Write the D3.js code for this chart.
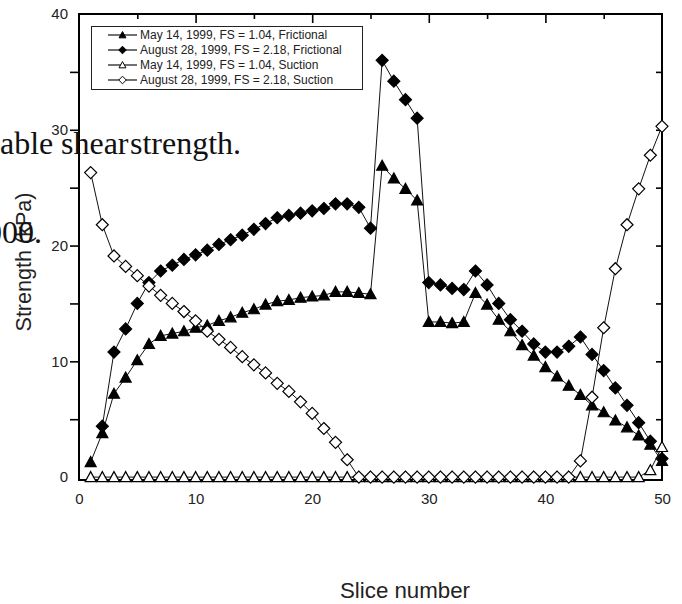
<!DOCTYPE html>
<html>
<head>
<meta charset="utf-8">
<script src="https://cdn.jsdelivr.net/npm/d3@7/dist/d3.min.js"></script>
<style>
  html, body { margin: 0; padding: 0; background: #fff; }
  svg { display: block; }
</style>
</head>
<body>
<svg id="chart" width="682" height="604"></svg>
<script>
// Slice numbers along the slip surface
const slices = d3.range(1, 51);

// Frictional strength, May 14, 1999 (FS = 1.04), kPa
const mayFrictional = [
  1.3, 3.8, 7.2, 8.6, 10.1, 11.5, 12.2, 12.4, 12.6, 12.9,
  13.1, 13.5, 13.8, 14.2, 14.5, 14.9, 15.2, 15.3, 15.5, 15.6,
  15.7, 16.0, 16.0, 15.9, 15.8, 26.9, 25.8, 24.9, 23.9, 13.4,
  13.4, 13.3, 13.4, 15.9, 14.9, 13.6, 12.6, 11.4, 10.5, 9.5,
  8.7, 7.9, 7.1, 6.2, 5.6, 4.9, 4.3, 3.6, 2.8, 1.4
];

// Frictional strength, August 28, 1999 (FS = 2.18), kPa (no value for slice 1)
const augFrictional = [
  null, 4.4, 10.8, 12.8, 15.0, 16.8, 17.8, 18.3, 18.8, 19.2,
  19.6, 20.1, 20.5, 20.9, 21.4, 21.9, 22.4, 22.6, 22.8, 23.0,
  23.2, 23.6, 23.6, 23.3, 21.5, 36.0, 34.2, 32.6, 31.0, 16.8,
  16.6, 16.3, 16.2, 17.8, 16.6, 15.0, 13.6, 12.6, 11.5, 10.8,
  10.8, 11.3, 12.1, 10.6, 9.2, 7.7, 6.2, 4.7, 3.1, 1.6
];

// Suction strength, May 14, 1999 (FS = 1.04), kPa
const maySuction = [
  0, 0, 0, 0, 0, 0, 0, 0, 0, 0,
  0, 0, 0, 0, 0, 0, 0, 0, 0, 0,
  0, 0, 0, 0, 0, 0, 0, 0, 0, 0,
  0, 0, 0, 0, 0, 0, 0, 0, 0, 0,
  0, 0, 0, 0, 0, 0, 0, 0, 0.6, 2.6
];

// Suction strength, August 28, 1999 (FS = 2.18), kPa
const augSuction = [
  26.3, 21.8, 19.1, 18.2, 17.4, 16.5, 15.7, 15.0, 14.3, 13.5,
  12.6, 11.9, 11.2, 10.4, 9.7, 9.0, 8.1, 7.4, 6.5, 5.5,
  4.2, 3.0, 1.5, 0, 0, 0, 0, 0, 0, 0,
  0, 0, 0, 0, 0, 0, 0, 0, 0, 0,
  0, 0, 1.4, 6.9, 12.9, 18.0, 21.8, 24.9, 27.8, 30.3
];

const seriesNames = [
  "May 14, 1999, FS = 1.04, Frictional",
  "August 28, 1999, FS = 2.18, Frictional",
  "May 14, 1999, FS = 1.04, Suction",
  "August 28, 1999, FS = 2.18, Suction"
];
const xTicks = [0, 10, 20, 30, 40, 50];
const yTicks = [0, 10, 20, 30, 40];

const svg = d3.select("#chart");
const sans = "'Liberation Sans', Arial, Helvetica, sans-serif";
const serif = "'Liberation Serif', 'Times New Roman', serif";

const x = d3.scaleLinear().domain([0, 50]).range([79, 662]);
const y = d3.scaleLinear().domain([-0.25, 40]).range([480, 14]);

// Marker shapes: upright triangle and square-on-point diamond
const triangleType = {
  draw(ctx, size) {
    const s = Math.sqrt(size);
    ctx.moveTo(0, -0.55 * s);
    ctx.lineTo(0.55 * s, 0.45 * s);
    ctx.lineTo(-0.55 * s, 0.45 * s);
    ctx.closePath();
  }
};
const diamondType = {
  draw(ctx, size) {
    const s = Math.sqrt(size) * 0.6;
    ctx.moveTo(0, -s);
    ctx.lineTo(s, 0);
    ctx.lineTo(0, s);
    ctx.lineTo(-s, 0);
    ctx.closePath();
  }
};

const series = [
  { name: seriesNames[0], values: mayFrictional, type: triangleType, fill: "#000" },
  { name: seriesNames[1], values: augFrictional, type: diamondType, fill: "#000" },
  { name: seriesNames[2], values: maySuction, type: triangleType, fill: "#fff" },
  { name: seriesNames[3], values: augSuction, type: diamondType, fill: "#fff" }
];

// Axes
const gLeft = svg.append("g").attr("transform", `translate(${x(0)},0)`)
  .call(d3.axisLeft(y).tickValues(d3.range(5, 40, 5)).tickSize(9).tickFormat(""));
const gLeftLabels = svg.append("g").attr("transform", `translate(${x(0)},0)`)
  .call(d3.axisLeft(y).tickValues(yTicks).tickSize(0).tickPadding(11));
const gTop = svg.append("g").attr("transform", `translate(0,${y(40)})`)
  .call(d3.axisTop(x).tickValues(d3.range(5, 50, 10)).tickSizeInner(-5).tickSizeOuter(0).tickFormat(""));
const gTopMajor = svg.append("g").attr("transform", `translate(0,${y(40)})`)
  .call(d3.axisTop(x).tickValues(d3.range(10, 50, 10)).tickSizeInner(-9).tickSizeOuter(0).tickFormat(""));
const gRight = svg.append("g").attr("transform", `translate(${x(50)},0)`)
  .call(d3.axisRight(y).tickValues(d3.range(5, 40, 5)).tickSizeInner(-6).tickSizeOuter(0).tickFormat(""));
const gBottom = svg.append("g").attr("transform", `translate(0,${y(-0.25)})`)
  .call(d3.axisBottom(x).tickValues(xTicks).tickSize(0).tickPadding(13));

[gLeft, gLeftLabels, gTop, gTopMajor, gRight, gBottom].forEach(g => {
  g.select(".domain").remove();
  g.selectAll(".tick line").attr("stroke", "#000").attr("stroke-width", 1.6);
  g.selectAll(".tick text").attr("font-family", sans).attr("font-size", 15).attr("fill", "#222");
});

// Plot frame
svg.append("rect")
  .attr("x", x(0)).attr("y", y(40))
  .attr("width", x(50) - x(0)).attr("height", y(-0.25) - y(40))
  .attr("fill", "none").attr("stroke", "#000").attr("stroke-width", 2);

// Series lines and markers
const line = d3.line()
  .defined(d => d.v !== null)
  .x(d => x(d.s)).y(d => y(d.v));

series.forEach(ser => {
  const pts = slices.map((s, i) => ({ s, v: ser.values[i] }));
  const g = svg.append("g");
  g.append("path")
    .attr("d", line(pts))
    .attr("fill", "none").attr("stroke", "#111").attr("stroke-width", 1);
  g.selectAll("path.marker")
    .data(pts.filter(d => d.v !== null))
    .join("path")
    .attr("class", "marker")
    .attr("transform", d => `translate(${x(d.s)},${y(d.v)})`)
    .attr("d", d3.symbol().type(ser.type).size(100))
    .attr("fill", ser.fill)
    .attr("stroke", "#000")
    .attr("stroke-width", 1.2);
});

// Legend
const legend = svg.append("g");
legend.append("rect")
  .attr("x", 91.5).attr("y", 26.5).attr("width", 271).attr("height", 63)
  .attr("fill", "#fff").attr("stroke", "#222").attr("stroke-width", 1);
series.forEach((ser, i) => {
  const cy = 35 + i * 15;
  legend.append("line")
    .attr("x1", 108).attr("x2", 137).attr("y1", cy).attr("y2", cy)
    .attr("stroke", "#111").attr("stroke-width", 1.2);
  legend.append("path")
    .attr("transform", `translate(122.5,${cy})`)
    .attr("d", d3.symbol().type(ser.type).size(40))
    .attr("fill", ser.fill).attr("stroke", "#000").attr("stroke-width", 1);
  legend.append("text")
    .attr("x", 140).attr("y", cy + 4.2)
    .attr("font-family", sans).attr("font-size", 12).attr("fill", "#222")
    .text(ser.name);
});

// Axis titles
svg.append("text")
  .attr("x", 405).attr("y", 598)
  .attr("text-anchor", "middle")
  .attr("font-family", sans).attr("font-size", 22).attr("fill", "#222")
  .attr("textLength", 130).attr("lengthAdjust", "spacingAndGlyphs")
  .text("Slice number");
svg.append("text")
  .attr("transform", "translate(31,262) rotate(-90)")
  .attr("text-anchor", "middle")
  .attr("font-family", sans).attr("font-size", 22).attr("fill", "#222")
  .attr("textLength", 139).attr("lengthAdjust", "spacingAndGlyphs")
  .text("Strength (kPa)");

// Running caption text from the surrounding page
const page = svg.append("g")
  .attr("font-family", serif).attr("font-size", 32).attr("fill", "#111");
page.append("text").attr("x", 0).attr("y", 154).text("able");
page.append("text").attr("x", 61).attr("y", 154).text("shear");
page.append("text").attr("x", 130).attr("y", 154).text("strength.");
page.append("text").attr("x", -14).attr("y", 243).text("000.");
</script>
</body>
</html>
